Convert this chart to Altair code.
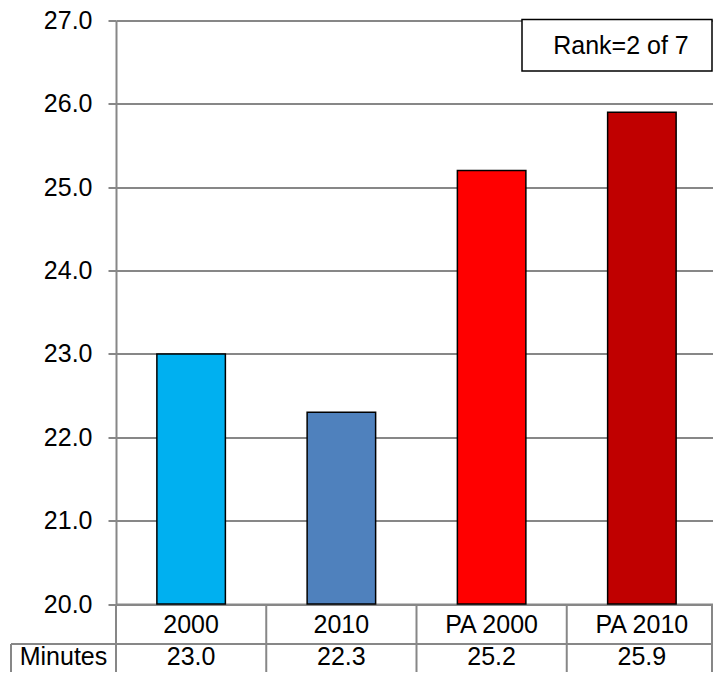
import altair as alt
import pandas as pd

# ---- data ----
categories = ["2000", "2010", "PA 2000", "PA 2010"]
minutes = [23.0, 22.3, 25.2, 25.9]
bar_colors = ["#00B0F0", "#4F81BD", "#FF0000", "#C00000"]
y_ticks = [20, 21, 22, 23, 24, 25, 26, 27]
row_label = "Minutes"
rank_text = "Rank=2 of 7"

df = pd.DataFrame({"cat": categories, "val": minutes})
df["txt"] = [f"{v:.1f}" for v in minutes]

W_FULL = 601          # width of the four table columns
W, H = 597, 583.5     # visible view (page is 721 wide with 8px body margin)
GREY = "#878787"
FONT = "Liberation Sans"
FS = 25
ROW2_Y = 636.5

xscale = alt.Scale(domain=categories, paddingInner=0, paddingOuter=0, range=[0, W_FULL])
yscale = alt.Scale(domain=[20, 27], nice=False, zero=False)

base = alt.Chart(df)

bars = base.mark_bar(size=68.5, stroke="black", strokeWidth=1.5).encode(
    x=alt.X("cat:N", scale=xscale, sort=categories,
            axis=alt.Axis(title=None, ticks=False, labelFontSize=FS, labelFont=FONT,
                          labelColor="black", labelBaseline="middle", labelPadding=20.5,
                          domainColor=GREY, domainWidth=2, labelAngle=0)),
    y=alt.Y("val:Q", scale=yscale,
            axis=alt.Axis(title=None, values=y_ticks, format=".1f", tickSize=8,
                          tickColor=GREY, tickWidth=2, labelPadding=16,
                          labelFontSize=FS, labelFont=FONT, labelColor="black",
                          domainColor=GREY, domainWidth=2, grid=True,
                          gridColor=GREY, gridWidth=2)),
    y2=alt.datum(20),
    color=alt.Color("cat:N", scale=alt.Scale(domain=categories, range=bar_colors), legend=None),
)

# table: value row
vals = base.mark_text(fontSize=FS, font=FONT, color="black", baseline="middle").encode(
    x=alt.X("cat:N", scale=xscale, sort=categories),
    y=alt.value(ROW2_Y),
    text="txt:N",
)

# table: vertical column lines at band edges
vlines = base.mark_rule(color=GREY, strokeWidth=2).encode(
    x=alt.X("cat:N", scale=xscale, sort=categories, bandPosition=0),
    y=alt.value(H),
    y2=alt.value(H + 80),
)

one = alt.Chart(pd.DataFrame({"label": [row_label], "rank": [rank_text]}))

vline_end = one.mark_rule(color=GREY, strokeWidth=2).encode(
    x=alt.value(W - 1), y=alt.value(H), y2=alt.value(H + 80))
hline = one.mark_rule(color=GREY, strokeWidth=2).encode(
    x=alt.value(-105), x2=alt.value(W), y=alt.value(623.5))
minutes_left = one.mark_rule(color=GREY, strokeWidth=2).encode(
    x=alt.value(-105), y=alt.value(623.5), y2=alt.value(H + 80))
minutes_txt = one.mark_text(fontSize=FS, font=FONT, color="black", baseline="middle").encode(
    x=alt.value(-52.5), y=alt.value(ROW2_Y), text="label:N")

rank_box = one.mark_rect(fill="white", stroke="black", strokeWidth=1.5).encode(
    x=alt.value(406), x2=alt.value(W - 1), y=alt.value(-1), y2=alt.value(50.5))
rank_txt = one.mark_text(fontSize=FS, font=FONT, color="black", baseline="middle").encode(
    x=alt.value(505), y=alt.value(25.8), text="rank:N")

chart = alt.layer(
    bars, vals, vlines, vline_end, hline, minutes_left, minutes_txt, rank_box, rank_txt
).properties(
    width=W, height=H,
    autosize=alt.AutoSizeParams(type="none"),
    padding={"left": 108, "top": 12.5, "right": 0, "bottom": 68},
    background="white",
).configure_view(stroke=None)

chart.save("out.html", embed_options={"renderer": "svg", "actions": False})
